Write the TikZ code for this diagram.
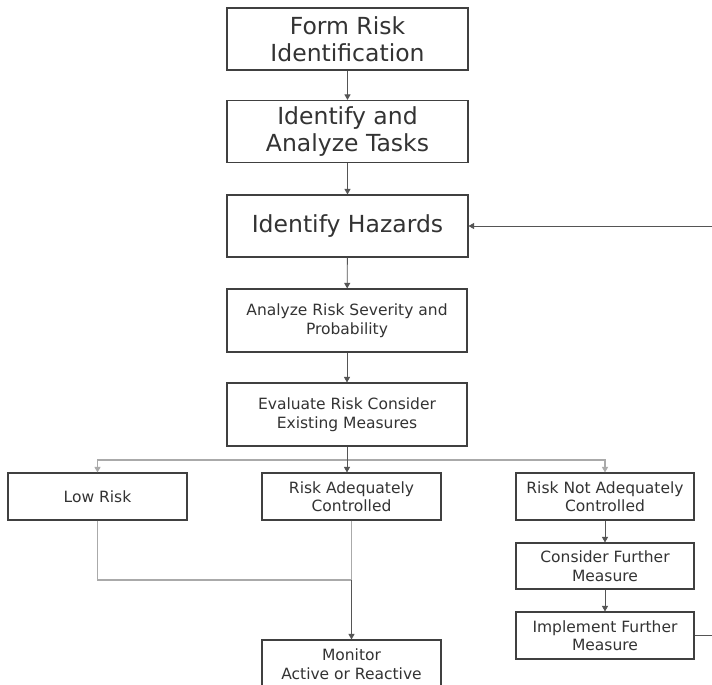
\documentclass[tikz,border=0pt]{standalone}
\usepackage{fontspec}
\setmainfont{DejaVu Sans}
\usetikzlibrary{arrows.meta}
\definecolor{boxline}{HTML}{404040}
\definecolor{txt}{HTML}{333333}
\definecolor{darklink}{HTML}{555555}
\definecolor{lightlink}{HTML}{AAAAAA}
\tikzset{
  x=1pt, y=1pt,
  base/.style={draw=boxline, line width=1.1pt, fill=white, text=txt, align=center, inner sep=1pt},
  bigbox/.style={base, minimum width=241pt, minimum height=62pt, font=\fontsize{23.5}{26.5}\selectfont},
  smallbox/.style={base, minimum width=179pt, minimum height=47pt, font=\fontsize{15.5}{18.5}\selectfont},
  midbox/.style={base, minimum width=240pt, minimum height=63pt, font=\fontsize{15.5}{18.5}\selectfont},
  tip/.style={-{Triangle[length=5.5pt,width=6pt]}},
  dlink/.style={draw=darklink, line width=0.9pt},
  llink/.style={draw=lightlink, line width=1.1pt},
}
\begin{document}
\begin{tikzpicture}
\clip (0,0) rectangle (712,-685);
\fill[white] (0,0) rectangle (712,-685);

% main column
\node[bigbox] (form) at (347.5,-39) {Form Risk\\Identification};
\node[bigbox] (tasks) at (347.5,-131.5) {Identify and\\Analyze Tasks};
\node[bigbox] (haz) at (347.5,-226) {Identify Hazards};
\node[midbox] (sev) at (347,-320.5) {Analyze Risk Severity and\\Probability};
\node[midbox] (eval) at (347,-414.5) {Evaluate Risk Consider\\Existing Measures};

% outcomes
\node[smallbox] (low) at (97.5,-496.5) {Low Risk};
\node[smallbox] (adq) at (351.5,-496.5) {Risk Adequately\\Controlled};
\node[smallbox, minimum width=178pt] (notadq) at (605,-496.5) {Risk Not Adequately\\Controlled};
\node[smallbox, minimum width=178pt, minimum height=46pt] (cons) at (605,-566) {Consider Further\\Measure};
\node[smallbox, minimum width=178pt] (impl) at (605,-635.5) {Implement Further\\Measure};
\node[smallbox, minimum height=48pt] (mon) at (351.5,-664) {Monitor\\Active or Reactive};

% helper points
\coordinate (split) at (347,-460);
\coordinate (join) at (351.5,-580);
\coordinate (loopA) at (740,-635.5);
\coordinate (loopB) at (740,-226);

% connectors down the main column
\draw[dlink, tip] (form) -- (tasks);
\draw[dlink, tip] (tasks) -- (haz);
\draw[dlink, tip] (haz) -- (sev);
\draw[dlink, tip] (sev) -- (eval);

% branching to the three outcomes
\draw[llink, tip] (split) -| (low.north);
\draw[llink, tip] (split) -| (notadq.north);
\draw[dlink, tip] (eval.south) -- (eval.south |- adq.north);

% merging into monitoring
\draw[llink] (low.south) |- (join);
\draw[llink] (adq.south) -- (join);
\draw[dlink, tip] (join) -- (mon.north);

% further measures
\draw[dlink, tip] (notadq) -- (cons);
\draw[dlink, tip] (cons) -- (impl);

% feedback loop to hazard identification
\draw[darklink, line width=0.9pt, tip] (impl.east) -- (loopA) -- (loopB) -- (haz.east);
\end{tikzpicture}
\end{document}
